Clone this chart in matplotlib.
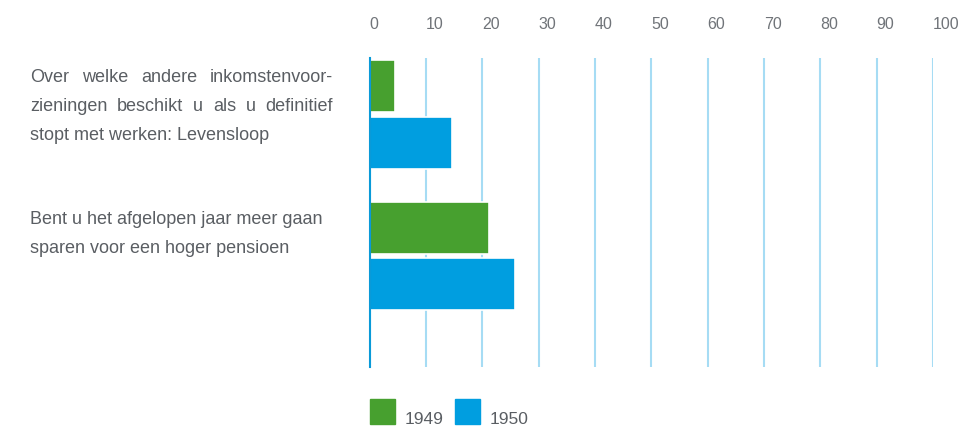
import matplotlib
matplotlib.use("Agg")
import matplotlib.pyplot as plt
import matplotlib.transforms as mtransforms
from matplotlib.patches import Rectangle

plt.rcParams['font.family'] = ['Liberation Sans', 'DejaVu Sans']

# vragen (regels zoals afgebroken in het rapport)
questions = [
    ["Over welke andere inkomstenvoor-",
     "zieningen beschikt u als u definitief",
     "stopt met werken: Levensloop"],
    ["Bent u het afgelopen jaar meer gaan",
     "sparen voor een hoger pensioen"],
]
justified = [[True, True, False], [False, False]]
years = ["1949", "1950"]
values_1949 = [4.6, 21.2]
values_1950 = [14.6, 25.9]
ticks = [0, 10, 20, 30, 40, 50, 60, 70, 80, 90, 100]

GREEN = "#47a02f"
BLUE = "#009ee0"
GRID = "#a6dcf4"
TEXT = "#5a5e63"

fig = plt.figure(figsize=(9.6, 4.26), dpi=100)
W = fig.get_figwidth() * fig.dpi
H = fig.get_figheight() * fig.dpi
ax = fig.add_axes([0.3849, 0.1385, 0.9719 - 0.3849, 0.8638 - 0.1385])

h = 0.368
gap = 0.03
ypos = list(range(len(questions)))
ax.barh([y - (h + gap) / 2 for y in ypos], values_1949, height=h,
        color=GREEN, edgecolor="white", linewidth=1.2, zorder=3)
ax.barh([y + (h + gap) / 2 for y in ypos], values_1950, height=h,
        color=BLUE, edgecolor="white", linewidth=1.2, zorder=3)

ax.set_xlim(0, 100)
ax.set_ylim(1.786, -0.40)
ax.set_xticks(ticks)
ax.xaxis.tick_top()
ax.tick_params(axis="x", length=0, pad=18.5, labelsize=11.5, labelcolor="#707479")
for lbl in ax.get_xticklabels():
    lbl.set_horizontalalignment("left")
ax.set_yticks([])
ax.grid(axis="x", color=GRID, linewidth=1.5, zorder=1)
for s in ["top", "right", "bottom"]:
    ax.spines[s].set_visible(False)
ax.spines["left"].set_color("#0a9ad8")
ax.spines["left"].set_linewidth(1.5)
ax.spines["left"].set_zorder(4)

# vraagteksten links, eerste regels uitgevuld
renderer = fig.canvas.get_renderer()
trans = mtransforms.blended_transform_factory(fig.transFigure, ax.transData)
x0_px, width_px = 30, 303
for y, lines, just in zip(ypos, questions, justified):
    for i, (line, j) in enumerate(zip(lines, just)):
        ly = y - 0.26 + i * 0.205
        if not j:
            ax.text(x0_px / W, ly, line, transform=trans, ha="left", va="center",
                    fontsize=13, color=TEXT)
            continue
        words = line.split()
        objs = [ax.text(0, ly, w, transform=trans, ha="left", va="center",
                        fontsize=13, color=TEXT) for w in words]
        widths = [o.get_window_extent(renderer).width for o in objs]
        space = (width_px - sum(widths)) / (len(words) - 1)
        x = x0_px
        for o, w in zip(objs, widths):
            o.set_x(x / W)
            x += w + space

# legenda: vierkantjes met jaartal ernaast
sq = 25
for (lx, tx), year, col in zip([(370, 405), (455, 490)], years, [GREEN, BLUE]):
    fig.patches.append(Rectangle((lx / W, 1 - 424 / H), sq / W, sq / H,
                                 transform=fig.transFigure, color=col))
    fig.text(tx / W, 1 - 423.5 / H, year, ha="left", va="baseline",
             fontsize=12.5, color=TEXT)

fig.savefig("out.png", dpi=100)
